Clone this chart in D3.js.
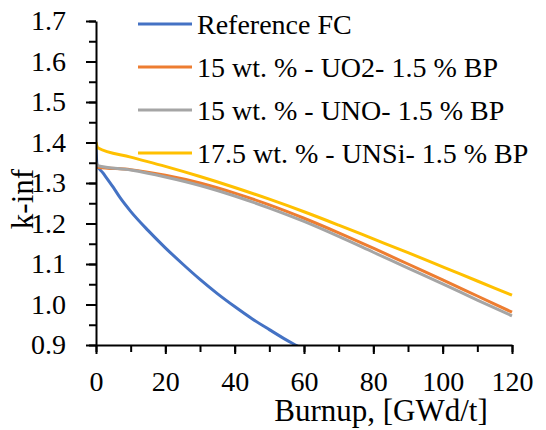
<!DOCTYPE html>
<html>
<head>
<meta charset="utf-8">
<script src="https://cdn.jsdelivr.net/npm/d3@7"></script>
</head>
<body style="margin:0; background:#fff">
<svg id="chart" width="546" height="430"></svg>
<script>
// Reference fuel cycle curve
var refBurnup = [0, 0.3, 2, 5, 7, 10, 15, 20, 25, 30, 35, 40, 45, 50, 55, 58, 60];
var refK = [1.386, 1.345, 1.325, 1.289, 1.263, 1.230, 1.183, 1.140, 1.100, 1.062, 1.027, 0.995, 0.965, 0.938, 0.912, 0.898, 0.888];

// Burnup points for the three proposed designs
var burnup = [0, 0.5, 10, 20, 30, 40, 50, 60, 70, 80, 90, 100, 110, 120];
var uo2K  = [1.345, 1.339, 1.333, 1.319, 1.300, 1.275, 1.246, 1.213, 1.177, 1.139, 1.100, 1.061, 1.021, 0.981];
var unoK  = [1.352, 1.343, 1.332, 1.315, 1.294, 1.268, 1.238, 1.205, 1.168, 1.129, 1.090, 1.051, 1.011, 0.972];
var unsiK = [1.401, 1.387, 1.364, 1.341, 1.316, 1.289, 1.260, 1.229, 1.196, 1.162, 1.128, 1.093, 1.058, 1.023];

var seriesNames = ["Reference FC", "15 wt. % - UO2- 1.5 % BP", "15 wt. % - UNO- 1.5 % BP", "17.5 wt. % - UNSi- 1.5 % BP"];
var seriesColors = ["#4472C4", "#ED7D31", "#A5A5A5", "#FFC000"];

var xTicks = [0, 20, 40, 60, 80, 100, 120];
var yTicks = [0.9, 1.0, 1.1, 1.2, 1.3, 1.4, 1.5, 1.6, 1.7];

// text style
function font(size) {
  return "font-family: 'Liberation Serif', 'Times New Roman', serif; font-size: " + size + "px; fill: #000;";
}

var margin = { left: 96, top: 21, right: 34, bottom: 85 };
var w = 546 - margin.left - margin.right;
var h = 430 - margin.top - margin.bottom;

var svg = d3.select("#chart");
var g = svg.append("g").attr("transform", "translate(" + margin.left + "," + margin.top + ")");

var x = d3.scaleLinear().domain([0, 120]).range([0, w]);
var y = d3.scaleLinear().domain([0.9, 1.7]).range([h, 0]);

// clip so the reference curve stops at the bottom of the plot
g.append("clipPath").attr("id", "plotClip")
  .append("rect").attr("x", 0).attr("y", -5).attr("width", w + 5).attr("height", h + 5);

var series = [
  { xs: refBurnup, ys: refK },
  { xs: burnup, ys: uo2K },
  { xs: burnup, ys: unoK },
  { xs: burnup, ys: unsiK }
];

var line = d3.line()
  .x(function (d) { return x(d[0]); })
  .y(function (d) { return y(d[1]); })
  .curve(d3.curveMonotoneX);

var plot = g.append("g").attr("clip-path", "url(#plotClip)");
series.forEach(function (s, i) {
  plot.append("path")
    .datum(d3.zip(s.xs, s.ys))
    .attr("fill", "none")
    .attr("stroke", seriesColors[i])
    .attr("stroke-width", 3)
    .attr("stroke-linejoin", "round")
    .attr("d", line);
});

// minor ticks
g.append("g").call(d3.axisLeft(y).ticks(16).tickSize(7).tickFormat("").tickSizeOuter(0))
  .call(function (a) { a.select(".domain").remove(); a.selectAll("line").attr("stroke-width", 2); });
g.append("g").attr("transform", "translate(0," + h + ")")
  .call(d3.axisBottom(x).ticks(12).tickSize(7).tickFormat("").tickSizeOuter(0))
  .call(function (a) { a.select(".domain").remove(); a.selectAll("line").attr("stroke-width", 2); });

// major axes
var yAxis = g.append("g")
  .call(d3.axisLeft(y).tickValues(yTicks).tickSize(10).tickPadding(20).tickSizeOuter(0).tickFormat(d3.format(".1f")));
var xAxis = g.append("g").attr("transform", "translate(0," + h + ")")
  .call(d3.axisBottom(x).tickValues(xTicks).tickSize(9).tickPadding(17).tickSizeOuter(0));

[yAxis, xAxis].forEach(function (a) {
  a.attr("font-family", null).attr("font-size", null);
  a.select(".domain").attr("stroke-width", 2);
  a.selectAll("line").attr("stroke-width", 2);
  a.selectAll("text").attr("style", font(28));
});

// axis titles
svg.append("text")
  .attr("transform", "translate(33,199) rotate(-90)")
  .attr("text-anchor", "middle")
  .attr("style", font(31))
  .text("k-inf");

svg.append("text")
  .attr("x", 381).attr("y", 421)
  .attr("text-anchor", "middle")
  .attr("style", font(31))
  .text("Burnup, [GWd/t]");

// legend
var legend = svg.append("g").attr("transform", "translate(138,24)");
seriesNames.forEach(function (name, i) {
  var row = legend.append("g").attr("transform", "translate(0," + (i * 43) + ")");
  row.append("line")
    .attr("x1", 0).attr("x2", 54)
    .attr("stroke", seriesColors[i])
    .attr("stroke-width", 3);
  row.append("text")
    .attr("x", 59).attr("dy", "0.35em")
    .attr("style", font(28))
    .text(name);
});
</script>
</body>
</html>
